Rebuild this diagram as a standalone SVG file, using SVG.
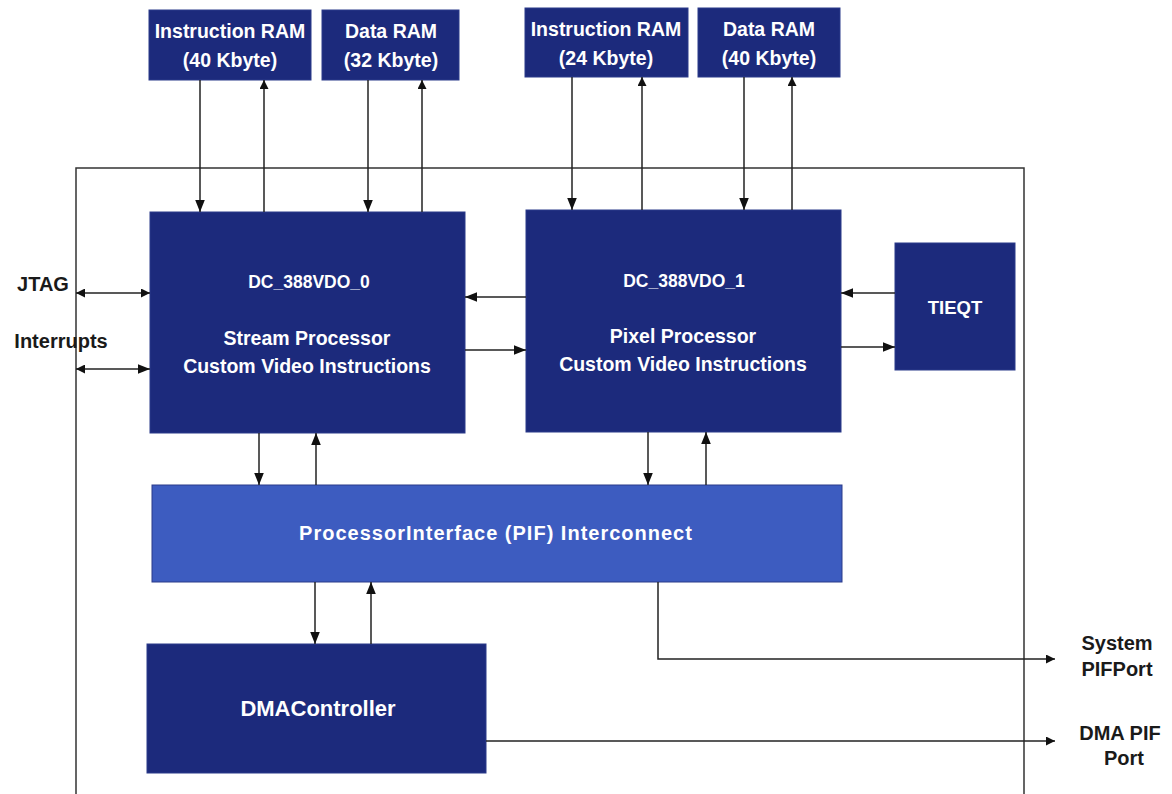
<svg xmlns="http://www.w3.org/2000/svg" width="1172" height="794" viewBox="0 0 1172 794">
<style>
.blk{fill:#1c2a7c;stroke:#2a3a8a;stroke-width:1}
.pif{fill:#3d5cc0;stroke:#2a3a8a;stroke-width:1}
.t{font-family:"Liberation Sans",Arial,sans-serif;font-weight:bold;fill:#ffffff;font-size:19.5px;text-anchor:middle}
.h{font-size:17.5px}
.lbl{font-family:"Liberation Sans",Arial,sans-serif;font-weight:bold;fill:#1a1a1a;font-size:20px;text-anchor:middle}
.ln{stroke:#222;stroke-width:1.5;fill:none}
.frame{stroke:#333;stroke-width:1.5;fill:none}
</style>
<defs>
<marker id="ah" viewBox="0 0 10 10" refX="10" refY="5" markerWidth="9" markerHeight="9" markerUnits="userSpaceOnUse" orient="auto-start-reverse">
<path d="M0,0 L10,5 L0,10 z" fill="#111"/>
</marker>
<marker id="ahs" viewBox="0 0 10 10" refX="10" refY="5" markerWidth="12" markerHeight="12" markerUnits="userSpaceOnUse" orient="auto-start-reverse">
<path d="M0,1 L10,5 L0,9 z" fill="#111"/>
</marker>
</defs>
<rect width="1172" height="794" fill="#ffffff"/>
<g id="frame">
<path class="frame" d="M76,794 V168 H1024 V794"/>
</g>
<g id="iram0"><rect class="blk" x="149" y="10" width="162" height="70"/><text class="t" x="230" y="38">Instruction RAM</text><text class="t" x="230" y="67">(40 Kbyte)</text></g>
<g id="dram0"><rect class="blk" x="322" y="10" width="137" height="70"/><text class="t" x="391" y="38">Data RAM</text><text class="t" x="391" y="67">(32 Kbyte)</text></g>
<g id="iram1"><rect class="blk" x="525" y="8" width="163" height="69"/><text class="t" x="606" y="36">Instruction RAM</text><text class="t" x="606" y="65">(24 Kbyte)</text></g>
<g id="dram1"><rect class="blk" x="698" y="8" width="142" height="69"/><text class="t" x="769" y="36">Data RAM</text><text class="t" x="769" y="65">(40 Kbyte)</text></g>
<g id="dc0"><rect class="blk" x="150" y="212" width="315" height="221"/><text class="t h" x="309" y="288">DC_388VDO_0</text><text class="t" x="307" y="345">Stream Processor</text><text class="t" x="307" y="373">Custom Video Instructions</text></g>
<g id="dc1"><rect class="blk" x="526" y="210" width="315" height="222"/><text class="t h" x="684" y="287">DC_388VDO_1</text><text class="t" x="683" y="343">Pixel Processor</text><text class="t" x="683" y="371">Custom Video Instructions</text></g>
<g id="tieqt"><rect class="blk" x="895" y="243" width="120" height="127"/><text class="t" x="955" y="314" style="font-size:18.5px">TIEQT</text></g>
<g id="pif"><rect class="pif" x="152" y="485" width="690" height="97"/><text class="t" x="496" y="540" style="font-size:20px;letter-spacing:1px">ProcessorInterface (PIF) Interconnect</text></g>
<g id="dma"><rect class="blk" x="147" y="644" width="339" height="129"/><text class="t" x="318" y="716" style="font-size:22px">DMAController</text></g>
<g id="labels">
<text class="lbl" x="43" y="291">JTAG</text>
<text class="lbl" x="61" y="348">Interrupts</text>
<text class="lbl" x="1117" y="650">System</text>
<text class="lbl" x="1117" y="676">PIFPort</text>
<text class="lbl" x="1120" y="740">DMA PIF</text>
<text class="lbl" x="1124" y="765">Port</text>
</g>
<g id="connectors">
<line class="ln" x1="200" y1="80" x2="200" y2="212" marker-end="url(#ahs)"/>
<line class="ln" x1="264" y1="212" x2="264" y2="80" marker-end="url(#ah)"/>
<line class="ln" x1="368" y1="80" x2="368" y2="212" marker-end="url(#ahs)"/>
<line class="ln" x1="422" y1="212" x2="422" y2="80" marker-end="url(#ah)"/>
<line class="ln" x1="572" y1="77" x2="572" y2="210" marker-end="url(#ahs)"/>
<line class="ln" x1="642" y1="210" x2="642" y2="77" marker-end="url(#ah)"/>
<line class="ln" x1="744" y1="77" x2="744" y2="210" marker-end="url(#ahs)"/>
<line class="ln" x1="792" y1="210" x2="792" y2="77" marker-end="url(#ah)"/>
<line class="ln" x1="76" y1="293" x2="150" y2="293" marker-start="url(#ah)" marker-end="url(#ah)"/>
<line class="ln" x1="76" y1="369" x2="150" y2="369" marker-start="url(#ah)" marker-end="url(#ahs)"/>
<line class="ln" x1="526" y1="297" x2="465" y2="297" marker-end="url(#ahs)"/>
<line class="ln" x1="465" y1="350" x2="526" y2="350" marker-end="url(#ahs)"/>
<line class="ln" x1="895" y1="293" x2="841" y2="293" marker-end="url(#ahs)"/>
<line class="ln" x1="841" y1="347" x2="895" y2="347" marker-end="url(#ahs)"/>
<line class="ln" x1="259" y1="433" x2="259" y2="485" marker-end="url(#ahs)"/>
<line class="ln" x1="316" y1="485" x2="316" y2="433" marker-end="url(#ahs)"/>
<line class="ln" x1="648" y1="432" x2="648" y2="485" marker-end="url(#ahs)"/>
<line class="ln" x1="706" y1="485" x2="706" y2="432" marker-end="url(#ahs)"/>
<line class="ln" x1="315" y1="582" x2="315" y2="644" marker-end="url(#ahs)"/>
<line class="ln" x1="371" y1="644" x2="371" y2="582" marker-end="url(#ahs)"/>
<polyline class="ln" points="658,582 658,659 1055,659" marker-end="url(#ah)"/>
<line class="ln" x1="486" y1="741" x2="1055" y2="741" marker-end="url(#ah)"/>
</g>
</svg>
